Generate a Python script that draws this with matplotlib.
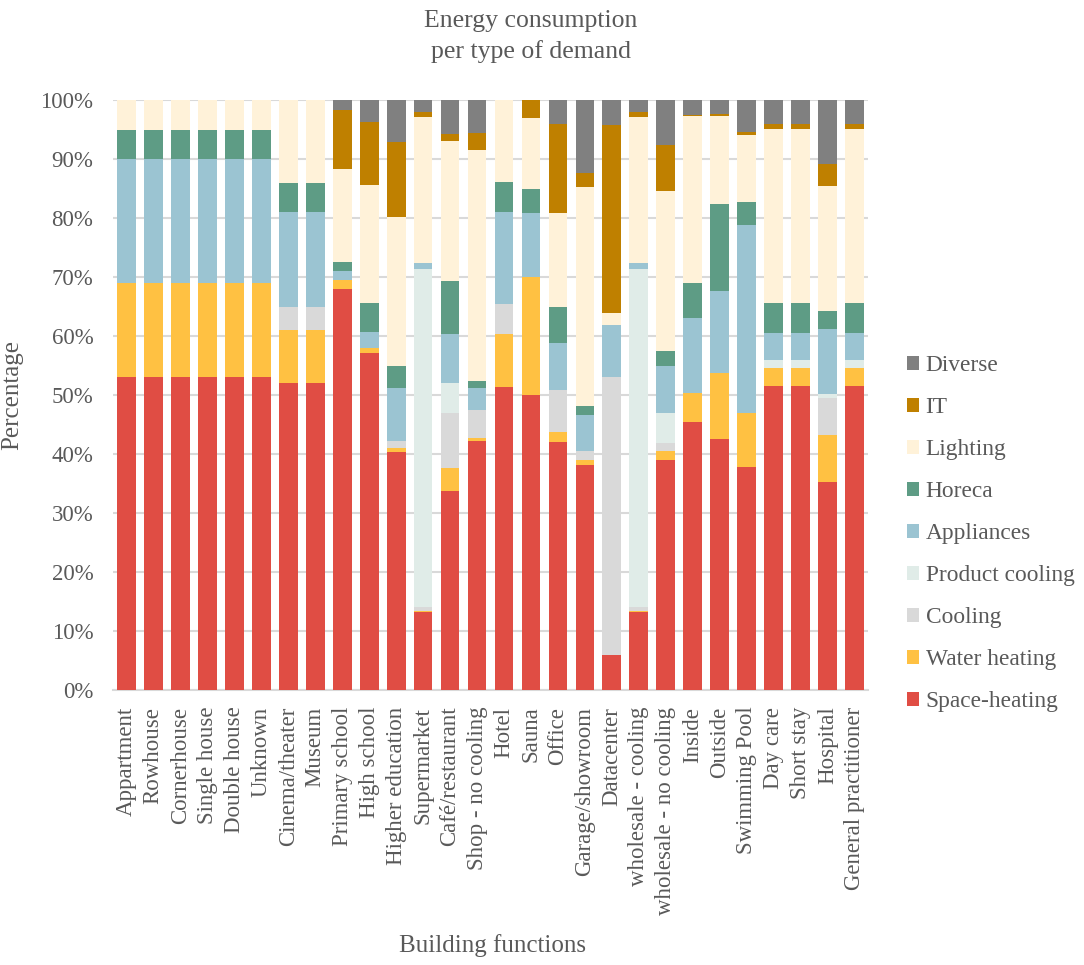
import matplotlib
matplotlib.use("Agg")
import matplotlib.pyplot as plt
import numpy as np
from matplotlib.ticker import PercentFormatter

plt.rcParams['font.family'] = ['Liberation Serif', 'DejaVu Serif']

categories = ["Appartment", "Rowhouse", "Cornerhouse", "Single house", "Double house",
              "Unknown", "Cinema/theater", "Museum", "Primary school", "High school",
              "Higher education", "Supermarket", "Café/restaurant", "Shop - no cooling",
              "Hotel", "Sauna", "Office", "Garage/showroom", "Datacenter",
              "wholesale - cooling", "wholesale - no cooling", "Inside", "Outside",
              "Swimming Pool", "Day care", "Short stay", "Hospital", "General practitioner"]

space_heating   = [53, 53, 53, 53, 53, 53, 52, 52, 68.0, 57.1, 40.4, 13.2, 33.7, 42.2, 51.4, 50.0, 42.0, 38.1, 5.9, 13.2, 39.0, 45.4, 42.6, 37.8, 51.6, 51.6, 35.2, 51.6]
water_heating   = [16, 16, 16, 16, 16, 16, 9, 9, 1.6, 0.9, 0.7, 0.2, 3.9, 0.5, 9.0, 20.0, 1.8, 0.95, 0, 0.2, 1.5, 4.9, 11.1, 9.2, 3.0, 3.0, 8.0, 3.0]
cooling         = [0, 0, 0, 0, 0, 0, 4, 4, 0, 0, 1.1, 0.65, 9.4, 4.8, 5.0, 0, 7.1, 1.55, 47.1, 0.65, 1.4, 0, 0, 0, 0, 0, 6.3, 0]
product_cooling = [0, 0, 0, 0, 0, 0, 0, 0, 0, 0, 0, 57.35, 5.1, 0, 0, 0, 0, 0, 0, 57.35, 5.1, 0, 0, 0, 1.3, 1.3, 0.7, 1.3]
appliances      = [21, 21, 21, 21, 21, 21, 16, 16, 1.4, 2.7, 9.1, 1.1, 8.3, 3.8, 15.7, 10.9, 8.0, 6.1, 8.9, 1.1, 7.9, 12.8, 14.0, 31.8, 4.7, 4.7, 11.0, 4.7]
horeca          = [5, 5, 5, 5, 5, 5, 5, 5, 1.6, 4.9, 3.7, 0, 8.9, 1.1, 5.0, 4.1, 6.0, 1.5, 0, 0, 2.6, 6.0, 14.7, 4.0, 5.0, 5.0, 3.1, 5.0]
lighting        = [5, 5, 5, 5, 5, 5, 14, 14, 15.7, 20.1, 25.2, 24.7, 23.8, 39.2, 13.9, 12.0, 16.0, 37.1, 2.0, 24.7, 27.1, 28.2, 14.9, 11.3, 29.5, 29.5, 21.1, 29.5]
it              = [0, 0, 0, 0, 0, 0, 0, 0, 10.1, 10.7, 12.8, 0.8, 1.2, 2.8, 0, 3.0, 15.1, 2.4, 32.0, 0.8, 7.8, 0.3, 0.4, 0.5, 0.9, 0.9, 3.8, 0.9]
diverse         = [0, 0, 0, 0, 0, 0, 0, 0, 1.6, 3.6, 7.0, 2.0, 5.7, 5.6, 0, 0, 4.0, 12.3, 4.1, 2.0, 7.6, 2.4, 2.3, 5.4, 4.0, 4.0, 10.8, 4.0]

series_names = ["Space-heating", "Water heating", "Cooling", "Product cooling",
                "Appliances", "Horeca", "Lighting", "IT", "Diverse"]
series_values = [space_heating, water_heating, cooling, product_cooling,
                 appliances, horeca, lighting, it, diverse]
colors = ["#E04D44", "#FFC142", "#D9D9D9", "#E0ECE8", "#9BC4D2",
          "#5E9C85", "#FFF2D9", "#BF8000", "#808080"]

text_color = "#595959"
grid_color = "#D9D9D9"

fig = plt.figure(figsize=(10.84, 9.65), dpi=100)
ax = fig.add_axes([0.104, 0.285, 0.697, 0.611])

x = np.arange(len(categories))
bottom = np.zeros(len(categories))
handles = []
for name, vals, col in zip(series_names, series_values, colors):
    v = np.array(vals, dtype=float)
    h = ax.bar(x, v, 0.70, bottom=bottom, color=col, label=name, zorder=3)
    handles.append(h)
    bottom += v

ax.set_ylim(0, 100)
ax.set_xlim(-0.5, len(categories) - 0.5)
ax.set_yticks(np.arange(0, 101, 10))
ax.yaxis.set_major_formatter(PercentFormatter(decimals=0))
ax.grid(axis='y', color=grid_color, linewidth=1.5, zorder=0)
for s in ['top', 'right', 'left']:
    ax.spines[s].set_visible(False)
ax.spines['bottom'].set_color(grid_color)
ax.spines['bottom'].set_linewidth(1.5)
ax.tick_params(axis='both', length=0, colors=text_color, labelsize=16.5)
ax.tick_params(axis='y', pad=14)
ax.tick_params(axis='x', pad=12)
ax.set_xticks(x)
ax.set_xticklabels(categories, rotation=90)

ax.set_ylabel("Percentage", fontsize=18, color=text_color, labelpad=12)
fig.text(0.454, 0.008, "Building functions", fontsize=18, color=text_color, ha='center', va='bottom')
fig.text(0.49, 0.962, "Energy consumption\nper type of demand", fontsize=18.5,
         color=text_color, ha='center', va='center', linespacing=1.45)

leg = fig.legend(handles[::-1], series_names[::-1], loc='center left',
                 bbox_to_anchor=(0.826, 0.447), frameon=False, fontsize=16.8,
                 handlelength=0.5, handleheight=0.5, handletextpad=0.3,
                 labelspacing=0.9, borderpad=0)
for t in leg.get_texts():
    t.set_color(text_color)

fig.savefig("out.png", dpi=100)
